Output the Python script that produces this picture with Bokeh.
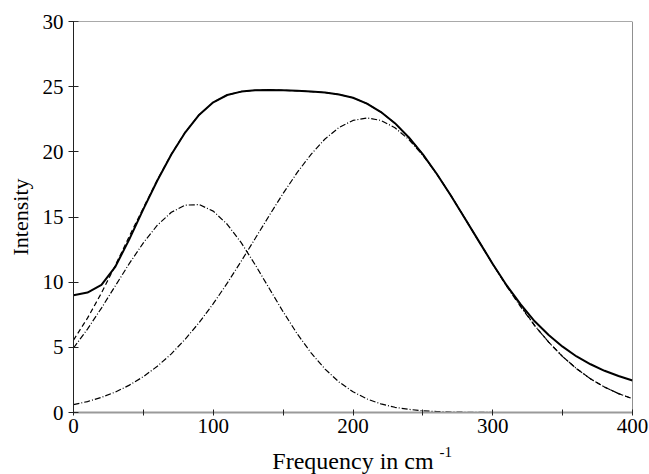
from bokeh.plotting import figure
from bokeh.models import Range1d, FixedTicker, Span, Title
from bokeh.embed import file_html
from bokeh.resources import INLINE

# Frequency grid (cm^-1)
freq = list(range(0, 401, 10))

# Measured spectrum (solid)
measured = [9.0, 9.2, 9.8, 11.2, 13.3, 15.6, 17.8, 19.8, 21.5, 22.85,
            23.8, 24.36, 24.62, 24.72, 24.74, 24.72, 24.68, 24.62, 24.55, 24.4,
            24.15, 23.7, 23.05, 22.2, 21.1, 19.8, 18.3, 16.65, 14.9, 13.15,
            11.4, 9.75, 8.3, 7.0, 5.95, 5.05, 4.3, 3.7, 3.2, 2.8, 2.45]

# Sum of the two bands (dashed)
fit_sum = [5.55, 7.24, 9.17, 11.3, 13.54, 15.7, 17.85, 19.82, 21.52, 22.85,
           23.8, 24.36, 24.62, 24.72, 24.74, 24.72, 24.68, 24.62, 24.55, 24.4,
           24.15, 23.7, 23.05, 22.2, 21.1, 19.8, 18.3, 16.65, 14.9, 13.15,
           11.4, 9.72, 8.2, 6.67, 5.4, 4.29, 3.36, 2.58, 1.95, 1.45, 1.06]

# Low-frequency band (dash-dot)
band_low = [4.95, 6.4, 8.01, 9.73, 11.44, 13.02, 14.37, 15.36, 15.91, 15.95,
            15.45, 14.44, 13.03, 11.34, 9.53, 7.73, 6.05, 4.57, 3.33, 2.34,
            1.59, 1.04, 0.66, 0.4, 0.24, 0.13, 0.07, 0.04, 0.02, 0.01,
            0.0, 0.0, 0.0, 0.0, 0.0, 0.0, 0.0, 0.0, 0.0, 0.0, 0.0]

# High-frequency band (dash-dot)
band_high = [0.6, 0.84, 1.16, 1.57, 2.1, 2.75, 3.55, 4.5, 5.63, 6.91,
             8.35, 9.92, 11.61, 13.35, 15.1, 16.81, 18.4, 19.81, 20.99, 21.87,
             22.41, 22.6, 22.41, 21.85, 20.94, 19.73, 18.29, 16.66, 14.92, 13.14,
             11.38, 9.68, 8.11, 6.67, 5.4, 4.29, 3.36, 2.58, 1.95, 1.45, 1.06]

x_ticks = [0, 100, 200, 300, 400]
x_minor = [50, 150, 250, 350]
y_ticks = [0, 5, 10, 15, 20, 25, 30]

x_start, x_end = 0, 400
y_start, y_end = 0, 30

x_title = "Frequency in cm"
x_title_sup = "-1"
y_title = "Intensity"

FONT = "Liberation Serif"

p = figure(width=649, height=474, output_backend="svg", toolbar_location=None,
           x_range=Range1d(x_start, x_end), y_range=Range1d(y_start, y_end),
           min_border_left=73, min_border_right=17, min_border_top=21,
           min_border_bottom=62)
p.background_fill_color = "white"
p.border_fill_color = "white"
p.outline_line_color = None
p.grid.visible = False

p.line(freq, band_low, line_color="black", line_width=1.2, line_dash="6 2 1 2")
p.line(freq, band_high, line_color="black", line_width=1.2, line_dash="6 2 1 2")
p.line(freq, fit_sum, line_color="black", line_width=1.2, line_dash="5 3")
p.line(freq, measured, line_color="black", line_width=2)

# frame top and right edges
p.add_layout(Span(location=y_end, dimension="width", line_color="#555555", line_width=1))
p.add_layout(Span(location=x_end, dimension="height", line_color="#222222", line_width=1))

xa = p.xaxis[0]
xa.ticker = FixedTicker(ticks=x_ticks, minor_ticks=x_minor)
xa.axis_line_color = "#9a9a9a"
xa.axis_line_width = 2
xa.major_tick_in = 3
xa.major_tick_out = 3
xa.minor_tick_in = 3
xa.minor_tick_out = 3
xa.major_tick_line_color = "#222222"
xa.minor_tick_line_color = "#222222"
xa.major_label_text_font = FONT
xa.major_label_text_font_size = "21px"
xa.major_label_text_color = "black"
xa.major_label_standoff = 3

ya = p.yaxis[0]
ya.ticker = FixedTicker(ticks=y_ticks, minor_ticks=[])
ya.axis_line_color = "#222222"
ya.major_tick_in = 5
ya.major_tick_out = 5
ya.major_tick_line_color = "#222222"
ya.minor_tick_line_color = None
ya.major_label_text_font = FONT
ya.major_label_text_font_size = "21px"
ya.major_label_text_color = "black"
ya.major_label_standoff = 5
ya.axis_label = y_title
ya.axis_label_text_font = FONT
ya.axis_label_text_font_size = "22px"
ya.axis_label_text_font_style = "normal"
ya.axis_label_text_color = "black"
ya.axis_label_standoff = 7

# x-axis title: superscript row first (closest to the axis), then the main text
sup = Title(text=x_title_sup, align="left", offset=366, vertical_align="bottom",
            standoff=19, text_font=FONT, text_font_size="15px",
            text_font_style="normal", text_color="black")
main = Title(text=x_title, align="center", vertical_align="top",
             standoff=-37, text_font=FONT, text_font_size="24px",
             text_font_style="normal", text_color="black")
p.add_layout(sup, "below")
p.add_layout(main, "below")

open("out.html", "w").write(file_html(p, INLINE))
